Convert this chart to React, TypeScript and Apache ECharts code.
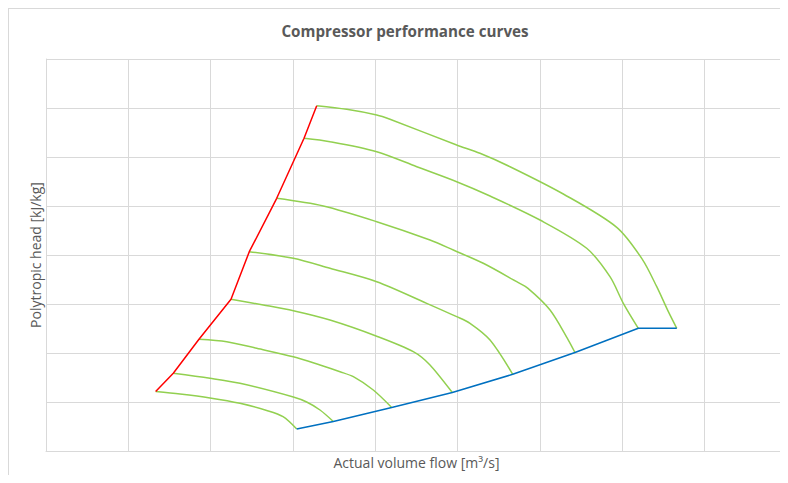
import React, { useEffect, useRef } from "react";
import * as echarts from "echarts";

// Speed lines: [actual volume flow, polytropic head]
const speed1: number[][] = [[1.332, 12.14], [1.628, 11.63], [1.992, 10.82], [2.356, 9.73], [2.681, 8.27], [2.879, 7.0], [3.045, 4.49]];
const speed2: number[][] = [[1.546, 15.86], [1.992, 14.84], [2.356, 13.82], [3.004, 11.02], [3.166, 10.0], [3.328, 8.37], [3.49, 6.02]];
const speed3: number[][] = [[1.858, 22.8], [2.195, 22.31], [2.559, 20.96], [3.004, 19.24], [3.328, 17.55], [3.571, 16.18], [3.733, 15.16], [3.975, 12.45], [4.199, 8.88]];
const speed4: number[][] = [[2.247, 30.96], [2.639, 29.8], [3.004, 28.63], [3.449, 26.73], [4.017, 23.43], [4.461, 20.27], [4.664, 17.55], [4.935, 11.94]];
const speed5: number[][] = [[2.469, 40.67], [3.004, 39.33], [3.449, 37.29], [4.017, 34.55], [4.624, 30.14], [4.988, 27.41], [5.15, 26.06], [5.393, 22.65], [5.669, 15.65]];
const speed6: number[][] = [[2.802, 51.57], [3.368, 50.0], [4.017, 46.8], [4.664, 43.06], [4.947, 41.02], [5.311, 38.31], [5.717, 34.55], [5.854, 33.2], [6.122, 28.78], [6.344, 22.65], [6.425, 20.1]];
const speed7: number[][] = [[3.134, 63.82], [3.449, 63.12], [4.017, 61.08], [4.503, 58.02], [4.988, 54.96], [5.393, 52.04], [6.0, 47.14], [6.567, 41.37], [6.85, 35.57], [7.012, 30.14], [7.194, 25.04]];
const speed8: number[][] = [[3.288, 70.47], [3.652, 69.73], [4.017, 68.57], [4.178, 67.69], [4.988, 62.45], [5.271, 60.76], [5.636, 58.02], [6.283, 52.45], [6.932, 45.65], [7.243, 39.12], [7.418, 33.53], [7.559, 28.43], [7.661, 25.04]];

const speedLines = [speed1, speed2, speed3, speed4, speed5, speed6, speed7, speed8];
// Surge line: first point of every speed line; choke line: last point of every speed line
const surgeLine = speedLines.map((s) => s[0]);
const chokeLine = speedLines.map((s) => s[s.length - 1]);

const xMin = 0, xMax = 9, xStep = 1;
const yMin = 0, yMax = 80, yStep = 10;

const FONT = "'Open Sans', sans-serif";

export default function App() {
  const ref = useRef<HTMLDivElement>(null);
  useEffect(() => {
    if (!ref.current) return;
    const chart = echarts.init(ref.current, undefined, { renderer: "svg" });
    const grey = "#d9d9d9";
    chart.setOption({
      animation: false,
      backgroundColor: "#ffffff",
      title: {
        text: "Compressor performance curves",
        left: 391,
        textAlign: "center",
        top: 9,
        textStyle: { fontFamily: FONT, fontSize: 15.2, fontWeight: "bold", color: "#595959" },
      },
      grid: { left: 37, top: 50, right: 1, bottom: 24, containLabel: false },
      xAxis: {
        type: "value",
        min: xMin,
        max: xMax,
        interval: xStep,
        name: "Actual volume flow [m³/s]",
        nameLocation: "middle",
        nameGap: 4,
        nameTextStyle: { fontFamily: FONT, fontSize: 14, color: "#595959" },
        axisLine: { show: true, lineStyle: { color: grey } },
        axisTick: { show: false },
        axisLabel: { show: false },
        splitLine: { show: true, lineStyle: { color: grey, width: 1 } },
      },
      yAxis: {
        type: "value",
        min: yMin,
        max: yMax,
        interval: yStep,
        name: "Polytropic head [kJ/kg]",
        nameLocation: "middle",
        nameGap: 4,
        nameTextStyle: { fontFamily: FONT, fontSize: 14, color: "#595959" },
        axisLine: { show: true, lineStyle: { color: grey } },
        axisTick: { show: false },
        axisLabel: { show: false },
        splitLine: { show: true, lineStyle: { color: grey, width: 1 } },
      },
      series: [
        ...speedLines.map((d, i) => ({
          type: "line",
          name: "Speed " + (i + 1),
          data: d,
          showSymbol: false,
          symbol: "none",
          smooth: 0.3,
          lineStyle: { color: "#92D050", width: 1.5 },
          z: 2,
        })),
        {
          type: "line",
          name: "Surge line",
          data: surgeLine,
          symbol: "none",
          lineStyle: { color: "#FF0000", width: 1.5 },
          z: 3,
        },
        {
          type: "line",
          name: "Choke line",
          data: chokeLine,
          symbol: "none",
          lineStyle: { color: "#0070C0", width: 1.5 },
          z: 3,
        },
      ],
    });
    return () => chart.dispose();
  }, []);
  return (
    <div
      style={{
        width: 780,
        height: 467,
        boxSizing: "border-box",
        borderTop: "1px solid #d9d9d9",
        borderLeft: "1px solid #d9d9d9",
        overflow: "hidden",
      }}
    >
      <div ref={ref} style={{ width: 779, height: 466 }} />
    </div>
  );
}
